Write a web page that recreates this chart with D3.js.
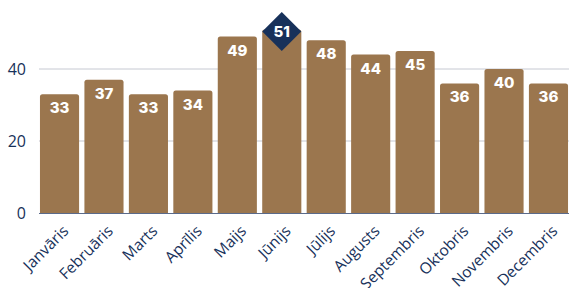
<!DOCTYPE html>
<html>
  <head>
    <meta charset="utf-8">
    <script src="https://d3js.org/d3.v7.min.js"></script>
    <style>
      body { margin: 0; background: #fff; }
    </style>
  </head>
  <body>
    <div id="chart"></div>
    <script>
      // month names and values
      const months = ['Janvāris', 'Februāris', 'Marts', 'Aprīlis', 'Maijs', 'Jūnijs',
        'Jūlijs', 'Augusts', 'Septembris', 'Oktobris', 'Novembris', 'Decembris'];
      const values = [33, 37, 33, 34, 49, 51, 48, 44, 45, 36, 40, 36];
      const yTicks = [0, 20, 40];
      const highlight = 'Jūnijs';

      const width = 569, height = 288;
      const navy = '#17315a';
      const barColor = '#9b764e';

      const chartData = months.map((m, i) => ({ month: m, value: values[i] }));

      const x = d3.scaleBand()
        .domain(months)
        .range([37.3, 570.7])
        .paddingInner(0.12)
        .paddingOuter(0.06);

      const y = d3.scaleLinear()
        .domain([0, 40])
        .range([213, 69]);

      const svg = d3.select('#chart')
        .append('svg')
        .attr('width', width)
        .attr('height', height)
        .style('font-family', '"Open Sans", sans-serif');

      // grid lines
      svg.append('g')
        .selectAll('line')
        .data(yTicks.filter(d => d > 0))
        .enter()
        .append('line')
        .attr('x1', 39)
        .attr('x2', width)
        .attr('y1', d => y(d))
        .attr('y2', d => y(d))
        .attr('stroke', '#c6c9d2')
        .attr('stroke-width', 1);

      // y labels
      svg.append('g')
        .selectAll('text')
        .data(yTicks)
        .enter()
        .append('text')
        .attr('x', 26)
        .attr('y', d => y(d))
        .attr('dy', '0.36em')
        .attr('text-anchor', 'end')
        .attr('fill', navy)
        .style('font-size', '16px')
        .text(d => d);

      // bars with rounded tops
      const r = 2.5;
      svg.append('g')
        .selectAll('path')
        .data(chartData)
        .enter()
        .append('path')
        .attr('fill', barColor)
        .attr('d', d => {
          const x0 = x(d.month), x1 = x0 + x.bandwidth();
          const y0 = y(d.value), yb = y(0);
          return `M${x0},${yb}V${y0 + r}Q${x0},${y0} ${x0 + r},${y0}H${x1 - r}Q${x1},${y0} ${x1},${y0 + r}V${yb}Z`;
        });

      // baseline
      svg.append('line')
        .attr('x1', 39)
        .attr('x2', width)
        .attr('y1', y(0) + 0.5)
        .attr('y2', y(0) + 0.5)
        .attr('stroke', '#5a6a8a')
        .attr('stroke-width', 1);

      // highlight diamond
      const hd = chartData.find(d => d.month === highlight);
      const hs = 19.5;
      const hx = x(hd.month) + x.bandwidth() / 2, hy = y(hd.value) + 2;
      svg.append('path')
        .attr('fill', navy)
        .attr('d', `M${hx},${hy - hs}L${hx + hs},${hy}L${hx},${hy + hs}L${hx - hs},${hy}Z`);

      // value labels
      svg.append('g')
        .selectAll('text')
        .data(chartData)
        .enter()
        .append('text')
        .attr('x', d => x(d.month) + x.bandwidth() / 2)
        .attr('y', d => d.month === highlight ? y(d.value) + 8 : y(d.value) + 19)
        .attr('text-anchor', 'middle')
        .attr('fill', '#fff')
        .style('font-family', 'Inter, sans-serif')
        .style('font-weight', 800)
        .style('font-size', '15px')
        .text(d => d.value);

      // x labels, rotated
      svg.append('g')
        .selectAll('text')
        .data(months)
        .enter()
        .append('text')
        .attr('text-anchor', 'end')
        .attr('transform', d => `translate(${x(d) + x.bandwidth() / 2 + 10},232) rotate(-45)`)
        .attr('fill', navy)
        .style('font-size', '15.5px')
        .text(d => d);
    </script>
  </body>
</html>
